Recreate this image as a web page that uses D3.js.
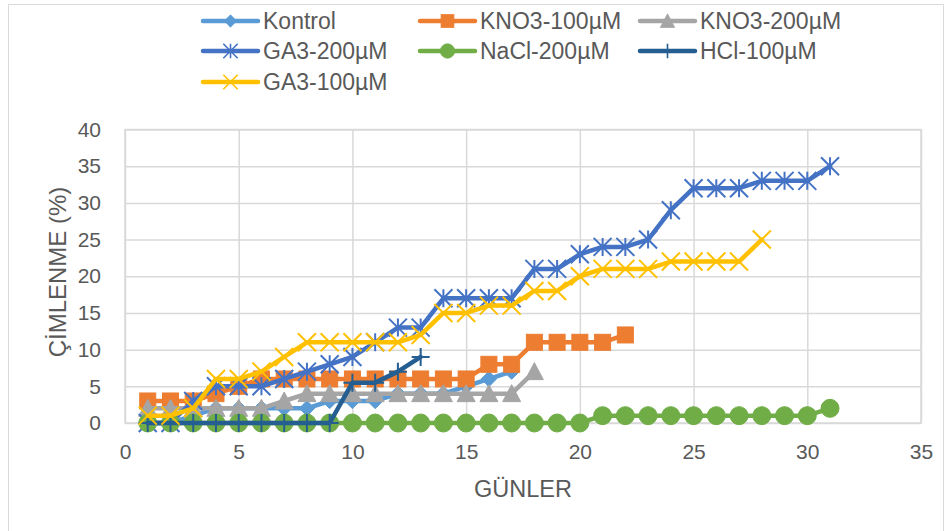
<!DOCTYPE html>
<html>
<head>
<meta charset="utf-8">
<script src="https://cdn.jsdelivr.net/npm/d3@7"></script>
<style>
  body { margin: 0; background: #fff; }
  svg { display: block; font-family: "Liberation Sans", Arial, sans-serif; }
  .tick text { fill: #595959; }
</style>
</head>
<body>
<div id="chart"></div>
<script>
const width = 952;
const height = 531;

// days (x values)
const days = [1,2,3,4,5,6,7,8,9,10,11,12,13,14,15,16,17,18,19,20,21,22,23,24,25,26,27,28,29,30,31];

// germination % per series, starting at day 1
const kontrol  = [0,0,1,2,2,2,2,2,3,3,3,4,4,4,5,6,7];
const kno3_100 = [3,3,3,4,5,6,6,6,6,6,6,6,6,6,6,8,8,11,11,11,11,12];
const kno3_200 = [2,2,2,2,2,2,3,4,4,4,4,4,4,4,4,4,4,7];
const ga3_200  = [0,0,3,5,5,5,6,7,8,9,11,13,13,17,17,17,17,21,21,23,24,24,25,29,32,32,32,33,33,33,35];
const nacl_200 = [0,0,0,0,0,0,0,0,0,0,0,0,0,0,0,0,0,0,0,0,1,1,1,1,1,1,1,1,1,1,2];
const hcl_100  = [0,0,0,0,0,0,0,0,0,5.5,5.5,7,9];
const ga3_100  = [1,1,2,6,6,7,9,11,11,11,11,11,12,15,15,16,16,18,18,20,21,21,21,22,22,22,22,25];

const xTicks = [0,5,10,15,20,25,30,35];
const yTicks = [0,5,10,15,20,25,30,35,40];

const series = [
  { name: 'Kontrol',     values: kontrol,  color: '#5B9BD5', marker: 'diamond' },
  { name: 'KNO3-100µM',  values: kno3_100, color: '#ED7D31', marker: 'square' },
  { name: 'KNO3-200µM',  values: kno3_200, color: '#A5A5A5', marker: 'triangle' },
  { name: 'GA3-200µM',   values: ga3_200,  color: '#4472C4', marker: 'star' },
  { name: 'NaCl-200µM',  values: nacl_200, color: '#70AD47', marker: 'circle' },
  { name: 'HCl-100µM',   values: hcl_100,  color: '#255E91', marker: 'plus' },
  { name: 'GA3-100µM',   values: ga3_100,  color: '#FFC000', marker: 'x' }
];

const svg = d3.select('#chart')
  .append('svg')
  .attr('width', width)
  .attr('height', height);

// chart area border
svg.append('rect')
  .attr('x', 8.5).attr('y', 4.5)
  .attr('width', 935).attr('height', 540)
  .attr('fill', 'none')
  .attr('stroke', '#D9D9D9');

const xScale = d3.scaleLinear().domain([0, 35]).range([125, 921]);
const yScale = d3.scaleLinear().domain([0, 40]).range([423, 129.5]);

// gridlines
svg.append('g')
  .attr('transform', `translate(0, ${yScale(0)})`)
  .call(d3.axisBottom(xScale).tickValues(xTicks).tickSize(-(yScale(0) - yScale(40))).tickFormat(''))
  .call(g => g.select('.domain').remove())
  .call(g => g.selectAll('line').attr('stroke', '#D9D9D9').attr('stroke-width', 1.5));

svg.append('g')
  .attr('transform', `translate(${xScale(0)}, 0)`)
  .call(d3.axisLeft(yScale).tickValues(yTicks).tickSize(-(xScale(35) - xScale(0))).tickFormat(''))
  .call(g => g.select('.domain').remove())
  .call(g => g.selectAll('line').attr('stroke', '#D9D9D9').attr('stroke-width', 1.5));

// plot area border
svg.append('rect')
  .attr('x', xScale(0)).attr('y', yScale(40))
  .attr('width', xScale(35) - xScale(0))
  .attr('height', yScale(0) - yScale(40))
  .attr('fill', 'none')
  .attr('stroke', '#D9D9D9')
  .attr('stroke-width', 1.5);

// tick labels
svg.append('g')
  .attr('transform', `translate(0, ${yScale(0) + 18})`)
  .call(d3.axisBottom(xScale).tickValues(xTicks).tickSize(0))
  .call(g => g.select('.domain').remove())
  .selectAll('text')
  .attr('font-size', 21)
  .attr('font-family', 'Liberation Sans, Arial, sans-serif');

svg.append('g')
  .attr('transform', `translate(${xScale(0) - 21}, 0)`)
  .call(d3.axisLeft(yScale).tickValues(yTicks).tickSize(0))
  .call(g => g.select('.domain').remove())
  .selectAll('text')
  .attr('font-size', 21)
  .attr('font-family', 'Liberation Sans, Arial, sans-serif');

// axis titles
svg.append('text')
  .attr('x', 523).attr('y', 497)
  .attr('text-anchor', 'middle')
  .attr('font-size', 23.5)
  .attr('fill', '#595959')
  .text('GÜNLER');

svg.append('text')
  .attr('transform', 'translate(66, 272) rotate(-90)')
  .attr('text-anchor', 'middle')
  .attr('font-size', 24)
  .attr('fill', '#595959')
  .text('ÇİMLENME (%)');

function drawMarker(g, type, color) {
  const s = 8;
  if (type === 'diamond') {
    g.append('path').attr('d', d3.symbol(d3.symbolDiamond2, 150)()).attr('fill', color).attr('stroke', color);
  } else if (type === 'square') {
    g.append('rect').attr('x', -s).attr('y', -s).attr('width', 2 * s).attr('height', 2 * s)
      .attr('fill', color).attr('stroke', color);
  } else if (type === 'triangle') {
    g.append('path').attr('d', `M0,${-s - 1}L${s + 1},${s}L${-s - 1},${s}Z`).attr('fill', color).attr('stroke', color);
  } else if (type === 'circle') {
    g.append('circle').attr('r', 9).attr('fill', color).attr('stroke', color);
  } else if (type === 'star') {
    const r = 9;
    g.append('path')
      .attr('d', `M0,${-r}V${r}M${-r},${-r}L${r},${r}M${r},${-r}L${-r},${r}`)
      .attr('stroke', color).attr('stroke-width', 2).attr('fill', 'none');
  } else if (type === 'x') {
    const r = 9;
    g.append('path')
      .attr('d', `M${-r},${-r}L${r},${r}M${r},${-r}L${-r},${r}`)
      .attr('stroke', color).attr('stroke-width', 2).attr('fill', 'none');
  } else if (type === 'plus') {
    const r = 9;
    g.append('path')
      .attr('d', `M0,${-r}V${r}M${-r},0H${r}`)
      .attr('stroke', color).attr('stroke-width', 2).attr('fill', 'none');
  }
}

const line = d3.line()
  .x((d, i) => xScale(days[i]))
  .y(d => yScale(d));

series.forEach(s => {
  const g = svg.append('g');
  g.append('path')
    .datum(s.values)
    .attr('d', line)
    .attr('fill', 'none')
    .attr('stroke', s.color)
    .attr('stroke-width', 4.5)
    .attr('stroke-linejoin', 'round')
    .attr('stroke-linecap', 'round');
  g.selectAll('.pt')
    .data(s.values)
    .enter()
    .append('g')
    .attr('transform', (d, i) => `translate(${xScale(days[i])}, ${yScale(d)})`)
    .each(function () { drawMarker(d3.select(this), s.marker, s.color); });
});

// legend
const legendCols = [203, 420, 640];
const legendRows = [21, 51, 82];
series.forEach((s, i) => {
  const lx = legendCols[i % 3];
  const ly = legendRows[Math.floor(i / 3)];
  const g = svg.append('g');
  g.append('line')
    .attr('x1', lx).attr('x2', lx + 55)
    .attr('y1', ly).attr('y2', ly)
    .attr('stroke', s.color)
    .attr('stroke-width', 4.5)
    .attr('stroke-linecap', 'round');
  const m = g.append('g').attr('transform', `translate(${lx + 27.5}, ${ly}) scale(0.8)`);
  drawMarker(m, s.marker, s.color);
  g.append('text')
    .attr('x', lx + 60).attr('y', ly)
    .attr('dy', '0.35em')
    .attr('font-size', 23)
    .attr('fill', '#595959')
    .text(s.name);
});
</script>
</body>
</html>
